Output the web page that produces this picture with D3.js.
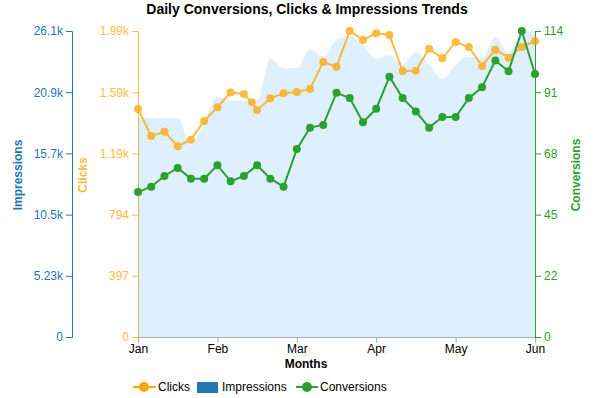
<!DOCTYPE html>
<html>
<head>
<meta charset="utf-8">
<script src="https://cdn.jsdelivr.net/npm/d3@7"></script>
<style>
  body { margin: 0; background: #fff; }
  svg { display: block; font-family: 'Liberation Sans', Arial, sans-serif; }
</style>
</head>
<body>
<svg id="chart" width="596" height="398"></svg>
<script>
'use strict';

/* x positions are day offsets from Jan 1, one month = 30 days on this chart */
const monthLabels = ['Jan', 'Feb', 'Mar', 'Apr', 'May', 'Jun'];
const monthDays   = [0, 30, 60, 90, 120, 150];

const seriesDays = [0, 5, 10, 15, 20, 25, 30, 35, 40, 45, 50, 55, 60, 65, 70, 75,
                    80, 85, 90, 95, 100, 105, 110, 115, 120, 125, 130, 135, 140, 145, 150];

const impressions = [18740, 18740, 18740, 18720, 16410, 18370, 20510, 20170, 20170, 20250,
                     23760, 22990, 22990, 24610, 23930, 25380, 25720, 24950, 23760, 24100,
                     23250, 24360, 23250, 22050, 23250, 23930, 23840, 25640, 24270, 25980, 26140];

const conversions = [54, 56, 60, 63, 59, 59, 64, 58, 60, 64, 59, 56, 70, 78, 79, 91,
                     89, 80, 85, 97, 89, 84, 78, 82, 82, 89, 93, 103, 99, 114, 98];

const clickDays = [0, 5, 10, 15, 20, 25, 30, 35, 40, 43, 45, 50, 55, 60, 65, 70,
                   75, 80, 85, 90, 95, 100, 105, 110, 115, 120, 125, 130, 135, 140, 145, 150];
const clicks    = [1480, 1304, 1332, 1238, 1281, 1402, 1491, 1587, 1577, 1523, 1473, 1549,
                   1582, 1590, 1610, 1785, 1754, 1986, 1928, 1971, 1960, 1726, 1728, 1871,
                   1809, 1915, 1882, 1759, 1865, 1813, 1882, 1921];

const COL_CLICKS = '#ffa500', COL_IMPR = '#1f77b4', COL_CONV = '#2ca02c';

const W = 596, H = 398;
const M = { top: 31, right: 61, bottom: 61, left: 138 };

const svg = d3.select('#chart');

const x = d3.scaleLinear().domain([0, 150]).range([M.left, W - M.right]);
const yImp  = d3.scaleLinear().domain([0, d3.max(impressions)]).range([H - M.bottom, M.top]);
const yClk  = d3.scaleLinear().domain([0, d3.max(clicks)]).range([H - M.bottom, M.top]);
const yConv = d3.scaleLinear().domain([0, d3.max(conversions)]).range([H - M.bottom, M.top]);

const fiveTicks = s => d3.range(6).map(i => s.domain()[1] * i / 5);
const styleAxis = g => g.attr('font-size', 12).attr('font-family', null);

/* Clicks axis (under the area, so the area tints it) */
svg.append('g')
  .attr('transform', `translate(${M.left},0)`)
  .attr('color', COL_CLICKS).attr('opacity', 0.75)
  .call(d3.axisLeft(yClk).tickValues(fiveTicks(yClk)).tickFormat(d3.format('.3~s')))
  .call(styleAxis);

/* Impressions area */
const area = d3.area()
  .x((d, i) => x(seriesDays[i]))
  .y0(yImp(0))
  .y1(d => yImp(d))
  .curve(d3.curveMonotoneX);

svg.append('path')
  .datum(impressions)
  .attr('d', area)
  .attr('fill', '#2196f3')
  .attr('fill-opacity', 0.15);

/* X axis */
const xAxis = svg.append('g')
  .attr('transform', `translate(0,${H - M.bottom})`)
  .call(d3.axisBottom(x).tickValues(monthDays).tickFormat((d, i) => monthLabels[i]).tickPadding(1))
  .call(styleAxis);
xAxis.selectAll('path, line').attr('stroke', '#aaa');
xAxis.selectAll('text').attr('fill', '#000');

/* Impressions axis */
svg.append('g')
  .attr('transform', 'translate(72,0)')
  .attr('color', COL_IMPR)
  .call(d3.axisLeft(yImp).tickValues(fiveTicks(yImp)).tickFormat(d3.format('.3~s')))
  .call(styleAxis);

/* Conversions axis */
svg.append('g')
  .attr('transform', `translate(${W - M.right},0)`)
  .attr('color', COL_CONV)
  .call(d3.axisRight(yConv).tickValues(fiveTicks(yConv)).tickFormat(d => Math.floor(d)))
  .call(styleAxis);

/* Clicks line + points */
const gClk = svg.append('g').attr('opacity', 0.75);
gClk.append('path')
  .datum(clicks)
  .attr('d', d3.line().x((d, i) => x(clickDays[i])).y(d => yClk(d)))
  .attr('fill', 'none').attr('stroke', COL_CLICKS).attr('stroke-width', 2);
gClk.selectAll('circle').data(clicks).join('circle')
  .attr('cx', (d, i) => x(clickDays[i])).attr('cy', d => yClk(d))
  .attr('r', 4).attr('fill', COL_CLICKS);

/* Conversions line + points */
const gConv = svg.append('g');
gConv.append('path')
  .datum(conversions)
  .attr('d', d3.line().x((d, i) => x(seriesDays[i])).y(d => yConv(d)))
  .attr('fill', 'none').attr('stroke', COL_CONV).attr('stroke-width', 2);
gConv.selectAll('circle').data(conversions).join('circle')
  .attr('cx', (d, i) => x(seriesDays[i])).attr('cy', d => yConv(d))
  .attr('r', 4).attr('fill', COL_CONV);

/* Titles */
svg.append('text')
  .attr('x', 307).attr('y', 14).attr('text-anchor', 'middle')
  .attr('font-size', 14).attr('font-weight', 'bold')
  .text('Daily Conversions, Clicks & Impressions Trends');

svg.append('text')
  .attr('x', 306).attr('y', 368).attr('text-anchor', 'middle')
  .attr('font-size', 12).attr('font-weight', 'bold')
  .text('Months');

const yTitles = [['Impressions', 22, COL_IMPR, 1], ['Clicks', 87, COL_CLICKS, 0.75], ['Conversions', 580, COL_CONV, 1]];
yTitles.forEach(([label, bx, col, op]) => {
  svg.append('text')
    .attr('transform', 'rotate(-90)')
    .attr('x', -175).attr('y', bx)
    .attr('text-anchor', 'middle')
    .attr('font-size', 12).attr('font-weight', 'bold')
    .attr('fill', col).attr('opacity', op)
    .text(label);
});

/* Legend */
const lg = svg.append('g').attr('font-size', 12);
const legY = 387;

lg.append('line').attr('x1', 133).attr('x2', 156).attr('y1', legY).attr('y2', legY)
  .attr('stroke', COL_CLICKS).attr('stroke-width', 2);
lg.append('circle').attr('cx', 144).attr('cy', legY).attr('r', 5).attr('fill', COL_CLICKS);
lg.append('text').attr('x', 158).attr('y', legY + 4).text('Clicks');

lg.append('rect').attr('x', 197).attr('y', 382).attr('width', 21).attr('height', 11).attr('fill', COL_IMPR);
lg.append('text').attr('x', 222).attr('y', legY + 4).text('Impressions');

lg.append('line').attr('x1', 296).attr('x2', 318).attr('y1', legY).attr('y2', legY)
  .attr('stroke', COL_CONV).attr('stroke-width', 2);
lg.append('circle').attr('cx', 307).attr('cy', legY).attr('r', 5).attr('fill', COL_CONV);
lg.append('text').attr('x', 320).attr('y', legY + 4).text('Conversions');
</script>
</body>
</html>
